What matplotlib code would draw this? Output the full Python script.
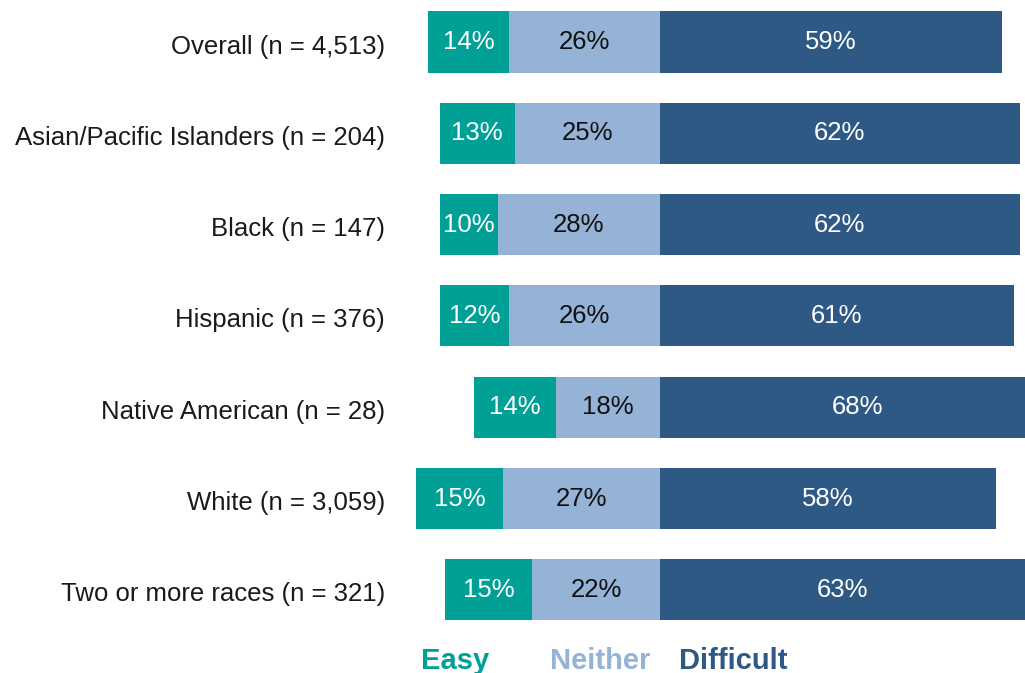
import matplotlib
matplotlib.use('Agg')
import matplotlib.pyplot as plt

groups = ['Overall (n = 4,513)', 'Asian/Pacific Islanders (n = 204)', 'Black (n = 147)',
          'Hispanic (n = 376)', 'Native American (n = 28)', 'White (n = 3,059)',
          'Two or more races (n = 321)']
easy = [14, 13, 10, 12, 14, 15, 15]
neither = [26, 25, 28, 26, 18, 27, 22]
difficult = [59, 62, 62, 61, 68, 58, 63]

c_easy = '#00A096'
c_neither = '#95B3D7'
c_diff = '#2E5985'

plt.rcParams['font.family'] = ['Liberation Sans', 'DejaVu Sans']

W, H = 1025, 673
fig = plt.figure(figsize=(W / 100, H / 100), dpi=100)
ax = fig.add_axes([0, 0, 1, 1])

# pixel layout: zero line at x=660, 5.8 px per percent; rows 91.3 px apart
zero_px, px_per = 660, 5.8
ax.set_xlim(-zero_px / px_per, (W - zero_px) / px_per)
row_px, first_px = 91.3, 42
ax.set_ylim((H - first_px) / row_px, -first_px / row_px)
ax.axis('off')

bh = 0.67
fs = 18.5
for i in range(len(groups)):
    e, n, d = easy[i], neither[i], difficult[i]
    ax.barh(i, e, left=-(e + n), height=bh, color=c_easy)
    ax.barh(i, n, left=-n, height=bh, color=c_neither)
    ax.barh(i, d, left=0, height=bh, color=c_diff)
    ax.text(-(n + e / 2), i, f'{e}%', ha='center', va='center', color='white', fontsize=fs)
    ax.text(-n / 2, i, f'{n}%', ha='center', va='center', color='#111111', fontsize=fs)
    ax.text(d / 2, i, f'{d}%', ha='center', va='center', color='white', fontsize=fs)
    ax.text(385 / W, i + 0.05, groups[i], transform=ax.get_yaxis_transform(),
            ha='right', va='center', color='#1a1a1a', fontsize=fs)

# legend as coloured words along the bottom
ly = 1 - 669 / H
fig.text(455 / W, ly, 'Easy', color=c_easy, fontsize=21, fontweight='bold', ha='center', va='baseline')
fig.text(600 / W, ly, 'Neither', color=c_neither, fontsize=21, fontweight='bold', ha='center', va='baseline')
fig.text(733 / W, ly, 'Difficult', color=c_diff, fontsize=21, fontweight='bold', ha='center', va='baseline')

fig.savefig('out.png', dpi=100)
